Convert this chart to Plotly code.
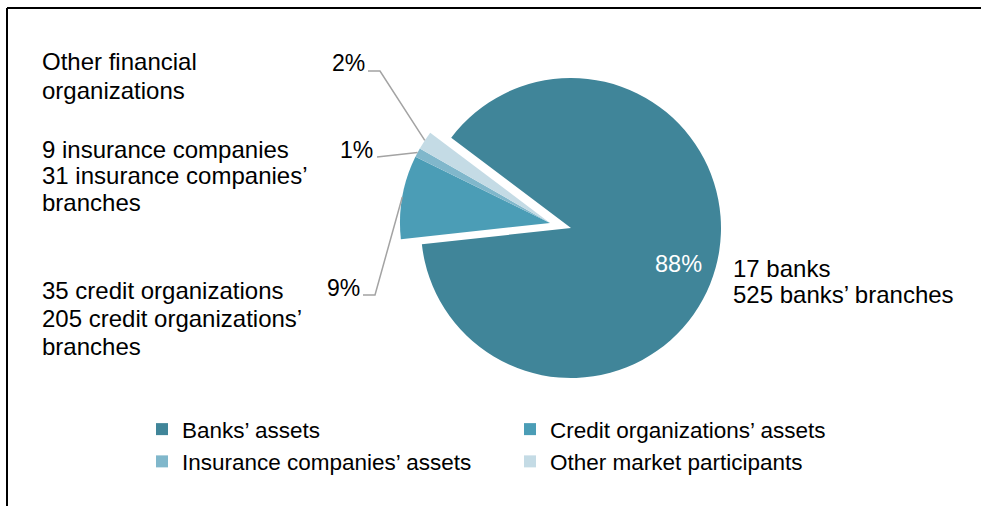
import math
import plotly.graph_objects as go

W, H = 981, 506

# ---- data ----
labels = [
    "Banks’ assets",
    "Credit organizations’ assets",
    "Insurance companies’ assets",
    "Other market participants",
]
shares = [88, 9, 1, 2]
colors = ["#408599", "#4B9DB6", "#80B7CB", "#C4DBE5"]

banks_note = ["17 banks", "525 banks’ branches"]
credit_note = ["35 credit organizations", "205 credit organizations’", "branches"]
insurance_note = ["9 insurance companies", "31 insurance companies’", "branches"]
other_note = ["Other financial", "organizations"]

FONT = "Liberation Sans, Arial, sans-serif"
NOTE_SIZE = 24
PCT_SIZE = 23
CLEAR = "rgba(0,0,0,0)"
LEADER = "#a3a3a3"

# pie geometry (pixels): main pie and the pulled-out group of small slices
R = 150
MAIN_C = (571, 228)
PULL_C = (550, 223)
ROTATION = -53  # first slice starts 53 deg left of 12 o'clock


def px(x):
    return x / W


def py(y):
    return 1 - y / H


def dom(cx, cy, r):
    return dict(x=[px(cx - r), px(cx + r)], y=[py(cy + r), py(cy - r)])


def slice_mid(i):
    """Pixel point on the outer arc at the middle of slice i (pulled group)."""
    total = sum(shares)
    start = 90 - ROTATION  # math angle of first slice start
    before = sum(shares[:i]) / total * 360
    ang = start - before - shares[i] / total * 180
    a = math.radians(ang)
    return PULL_C[0] + R * math.cos(a), PULL_C[1] - R * math.sin(a)


common = dict(
    labels=labels, values=shares, sort=False, direction="clockwise",
    rotation=ROTATION, textinfo="none",
)

fig = go.Figure()
# legend-only pie, tiny and hidden under the big slice
fig.add_trace(go.Pie(
    **common, marker=dict(colors=colors, line=dict(width=0)),
    domain=dom(650, 300, 2), showlegend=True, hoverinfo="skip",
))
fig.add_trace(go.Pie(
    **common, marker=dict(colors=[colors[0], CLEAR, CLEAR, CLEAR], line=dict(width=0)),
    domain=dom(*MAIN_C, R), showlegend=False, hoverinfo="label+percent",
))
fig.add_trace(go.Pie(
    **common, marker=dict(colors=[CLEAR] + colors[1:], line=dict(width=0)),
    domain=dom(*PULL_C, R), showlegend=False, hoverinfo="label+percent",
))

annotations = []
shapes = []


def note(lines, x, y0, step=27):
    for k, line in enumerate(lines):
        annotations.append(dict(
            x=px(x), y=py(y0 + k * step), xref="paper", yref="paper",
            text=line, showarrow=False, xanchor="left", yanchor="middle",
            font=dict(size=NOTE_SIZE, color="#000000", family=FONT),
        ))


note(other_note, 40, 62, 29)
note(insurance_note, 40, 149, 26.5)
note(credit_note, 40, 290, 28)
note(banks_note, 731, 268, 26)

# percentage labels with leader lines
annotations.append(dict(
    x=px(678), y=py(264), xref="paper", yref="paper", text=f"{shares[0]}%",
    showarrow=False, xanchor="center", yanchor="middle",
    font=dict(size=23.5, color="#ffffff", family=FONT),
))
label_pos = {1: (343, 288), 2: (356, 150), 3: (348, 63)}
elbows = {1: [(363, 295), (375, 295)], 2: [(377, 157)], 3: [(368, 71), (380, 71)]}
for i, (lx, ly) in label_pos.items():
    annotations.append(dict(
        x=px(lx), y=py(ly), xref="paper", yref="paper", text=f"{shares[i]}%",
        showarrow=False, xanchor="center", yanchor="middle",
        font=dict(size=PCT_SIZE, color="#000000", family=FONT),
    ))
    pts = elbows[i] + [slice_mid(i)]
    path = "M" + " L".join(f"{px(a)},{py(b)}" for a, b in pts)
    shapes.append(dict(type="path", path=path, xref="paper", yref="paper",
                       line=dict(color=LEADER, width=1.5)))

# frame (top and left edges)
shapes.append(dict(type="line", xref="paper", yref="paper", x0=px(7), x1=1,
                   y0=py(8), y1=py(8), line=dict(color="#000000", width=2)))
shapes.append(dict(type="line", xref="paper", yref="paper", x0=px(7), x1=px(7),
                   y0=py(8), y1=0, line=dict(color="#000000", width=2)))

fig.update_layout(
    width=W, height=H,
    margin=dict(l=0, r=0, t=0, b=0),
    paper_bgcolor="#ffffff", plot_bgcolor="#ffffff",
    font=dict(family=FONT, size=22, color="#000000"),
    annotations=annotations, shapes=shapes,
    legend=dict(
        orientation="h", x=px(142), y=py(408), xanchor="left", yanchor="top",
        entrywidth=323, font=dict(size=22.5, family=FONT), bgcolor=CLEAR,
        traceorder="normal",
    ),
)

# page body margin would shift the figure by 8px
fig.write_html("out.html", config={"displayModeBar": False},
               post_script="document.body.style.margin='0';document.body.style.overflow='hidden';")
